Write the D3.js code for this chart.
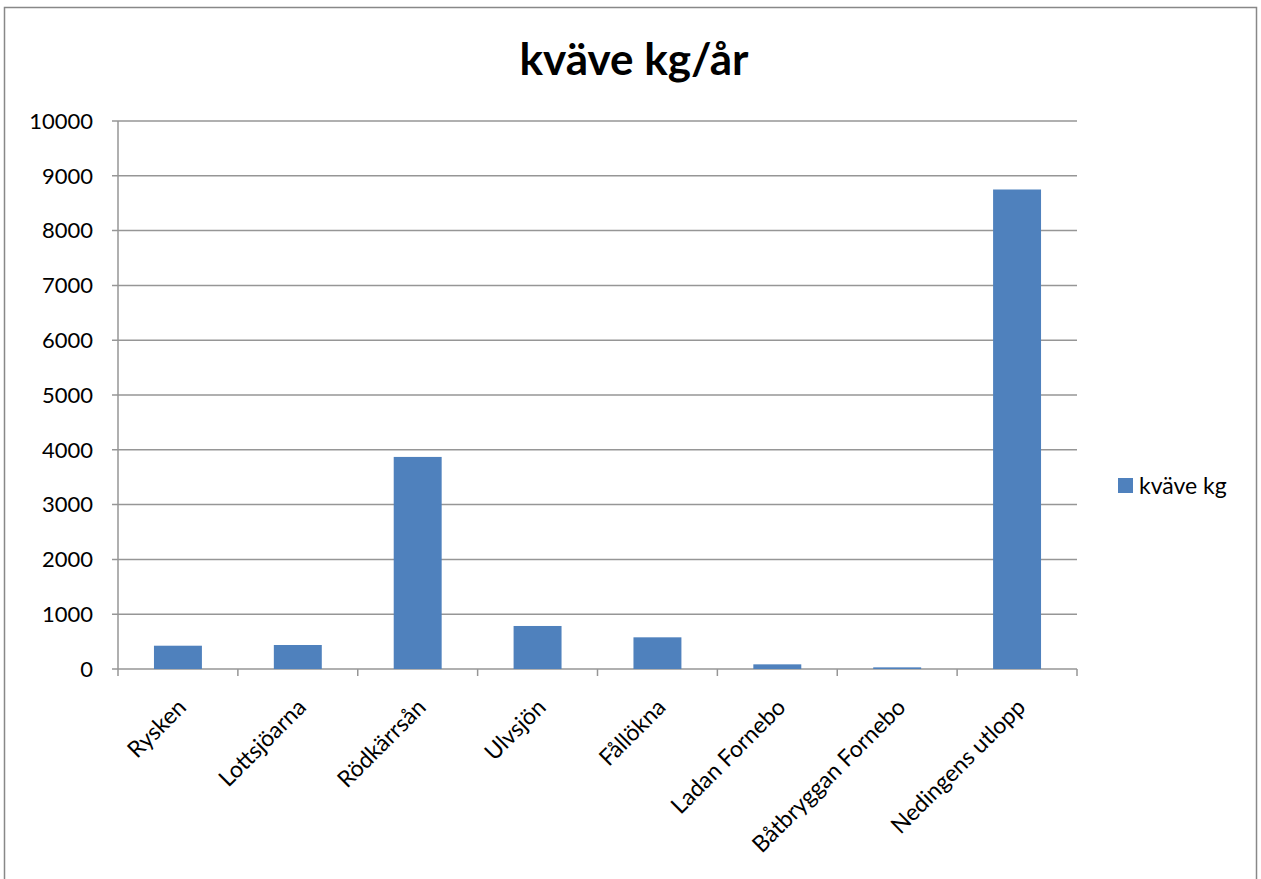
<!DOCTYPE html>
<html>
<head>
<meta charset="utf-8">
<script src="https://cdn.jsdelivr.net/npm/d3@7"></script>
<style>
  body { margin: 0; background: #fff; }
  svg { display: block; font-family: Lato, "Open Sans", sans-serif; }
</style>
</head>
<body>
<div id="chart"></div>
<script>
const categories = ["Rysken", "Lottsjöarna", "Rödkärrsån", "Ulvsjön", "Fållökna",
    "Ladan Fornebo", "Båtbryggan Fornebo", "Nedingens utlopp"];
const kvaveKg = [425, 438, 3870, 785, 578, 85, 30, 8750];
const yTicks = [0, 1000, 2000, 3000, 4000, 5000, 6000, 7000, 8000, 9000, 10000];
const seriesName = "kväve kg";
const title = "kväve kg/år";

const width = 1261;
const height = 879;
const margin = { top: 121, left: 118, right: 184, bottom: 210 };

const svg = d3.select('#chart').append('svg')
    .attr('width', width)
    .attr('height', height);

// chart frame
svg.append('rect')
    .attr('x', 4.5).attr('y', 7.5)
    .attr('width', 1252).attr('height', 890)
    .attr('fill', 'none')
    .attr('stroke', '#888')
    .attr('stroke-width', 1.5);

const x = d3.scaleBand()
    .domain(categories)
    .range([margin.left, width - margin.right])
    .paddingInner(0.6)
    .paddingOuter(0.3);

const y = d3.scaleLinear()
    .domain([0, 10000])
    .range([height - margin.bottom, margin.top]);

// gridlines
svg.append('g')
    .selectAll('line')
    .data(yTicks)
    .enter().append('line')
    .attr('x1', margin.left - 6)
    .attr('x2', width - margin.right)
    .attr('y1', d => y(d))
    .attr('y2', d => y(d))
    .attr('stroke', '#969696')
    .attr('stroke-width', 1.5);

// y axis line
svg.append('line')
    .attr('x1', margin.left).attr('x2', margin.left)
    .attr('y1', y(10000)).attr('y2', y(0))
    .attr('stroke', '#969696')
    .attr('stroke-width', 1.5);

// y labels
svg.append('g')
    .selectAll('text')
    .data(yTicks)
    .enter().append('text')
    .attr('x', margin.left - 25)
    .attr('y', d => y(d))
    .attr('dy', '0.35em')
    .attr('text-anchor', 'end')
    .style('font-size', '22px')
    .text(d => d);

// x tick marks at band edges
const step = x.step();
const edges = d3.range(categories.length + 1).map(i => margin.left + i * step);
svg.append('g')
    .selectAll('line')
    .data(edges)
    .enter().append('line')
    .attr('x1', d => d).attr('x2', d => d)
    .attr('y1', y(0)).attr('y2', y(0) + 7)
    .attr('stroke', '#969696')
    .attr('stroke-width', 1.5);

// bars
svg.append('g')
    .selectAll('rect')
    .data(categories)
    .enter().append('rect')
    .attr('x', d => x(d))
    .attr('width', x.bandwidth())
    .attr('y', (d, i) => y(kvaveKg[i]))
    .attr('height', (d, i) => y(0) - y(kvaveKg[i]))
    .attr('fill', '#4F81BD');

// category labels, rotated
svg.append('g')
    .selectAll('text')
    .data(categories)
    .enter().append('text')
    .attr('transform', d => `translate(${x(d) + x.bandwidth() / 2 + 4}, ${y(0) + 34}) rotate(-45)`)
    .attr('dy', '0.35em')
    .attr('text-anchor', 'end')
    .style('font-size', '23px')
    .text(d => d);

// title
svg.append('text')
    .attr('x', 634)
    .attr('y', 75)
    .attr('text-anchor', 'middle')
    .style('font-size', '44px')
    .style('font-weight', 'bold')
    .text(title);

// legend
const legend = svg.append('g').attr('transform', 'translate(1118, 478)');
legend.append('rect')
    .attr('width', 15).attr('height', 15)
    .attr('fill', '#4F81BD');
legend.append('text')
    .attr('x', 21).attr('y', 8)
    .attr('dy', '0.35em')
    .style('font-size', '23px')
    .text(seriesName);
</script>
</body>
</html>
